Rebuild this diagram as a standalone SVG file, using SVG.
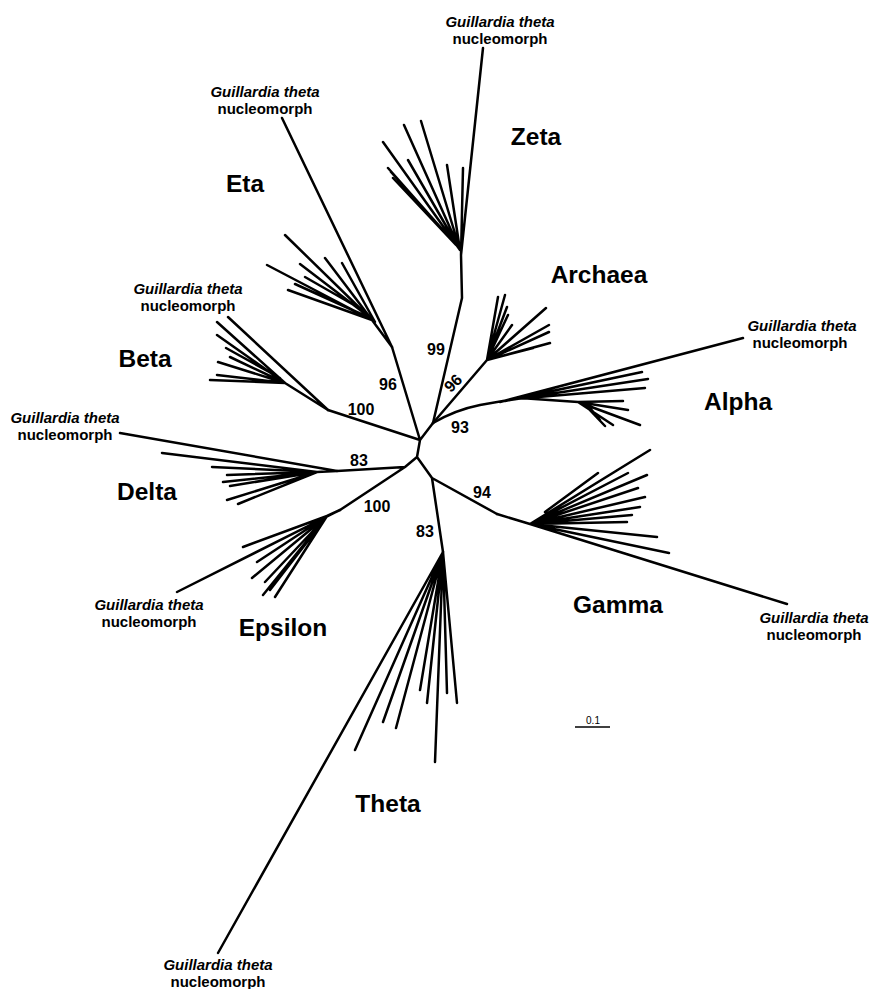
<svg xmlns="http://www.w3.org/2000/svg" width="872" height="989" viewBox="0 0 872 989">
<style>
.e{fill:none;stroke:#000;stroke-width:2.5;stroke-linecap:round;stroke-linejoin:round}
.g1{font-family:"Liberation Sans",Arial,sans-serif;font-size:15px;font-weight:bold;font-style:italic;text-anchor:middle}
.g2{font-family:"Liberation Sans",Arial,sans-serif;font-size:15px;font-weight:bold;text-anchor:middle}
.c{font-family:"Liberation Sans",Arial,sans-serif;font-size:24.5px;font-weight:bold;text-anchor:middle}
.b{font-family:"Liberation Sans",Arial,sans-serif;font-size:16px;font-weight:bold;text-anchor:middle}
.s{font-family:"Liberation Sans",Arial,sans-serif;font-size:10px;text-anchor:middle}
</style>
<rect width="872" height="989" fill="#fff"/>
<g id="connectors">
<!-- backbone -->
<path class="e" d="M420,440 L417,457 M420,440 L392,347 M420,440 L328,410 M420,440 L433,423 M417,457 L405,467 M417,457 L432,478 M405,467 L337,471 M405,467 L340,510 M432,478 L497,514 M432,478 L443,552"/>
<!-- Eta -->
<path class="e" d="M392,347 L282,118 M392,347 L372,320 M372,320 L285,235 M372,320 L267,265 M372,320 L288,290 M368,316 L300,264 M372,320 L325,258 M375,322 L342,263 M366,312 L305,277 M370,318 L295,284"/>
<!-- Beta -->
<path class="e" d="M328,410 L228,317 M328,410 L285,383 M285,383 L217,322 M285,383 L217,335 M285,383 L218,362 M285,383 L230,357 M285,383 L217,375 M285,383 L210,380 M280,378 L226,348"/>
<!-- Delta -->
<path class="e" d="M337,471 L120,433 M337,471 L317,472 M317,472 L162,453 M317,472 L212,467 M317,472 L227,475 M317,472 L223,482 M317,472 L230,486 M317,472 L227,500 M317,472 L238,504"/>
<!-- Epsilon -->
<path class="e" d="M340,510 L177,592 M340,510 L327,516 M327,516 L243,547 M327,516 L257,562 M327,516 L252,578 M327,516 L265,582 M327,516 L263,595 M327,516 L275,597 M318,528 L270,590"/>
<!-- Zeta -->
<path class="e" d="M433,423 L462,298 L461,255 M461,255 L483,48 M460,250 L383,142 M460,250 L404,125 M460,250 L421,121 M460,250 L408,160 M458,247 L388,168 M456,245 L393,178 M452,240 L391,172 M460,250 L447,165 M461,255 L463,168"/>
<!-- Archaea -->
<path class="e" d="M433,423 L487,360 M487,360 L498,297 M487,360 L505,295 M487,360 L507,307 M487,360 L508,315 M487,360 L512,325 M487,360 L546,308 M487,360 L549,325 M487,360 L549,332 M487,360 L550,343 M487,360 L533,348"/>
<!-- Alpha -->
<path class="e" d="M433,423 Q455,410 480,405 L520,398 M500,402 L743,338 M505,401 L642,372 M510,400 L648,379 M515,399 L645,388 M520,398 L578,402 M578,402 L623,401 M578,402 L628,410 M578,402 L640,425 M578,402 L613,425 M585,405 L605,426 M590,408 L600,420"/>
<!-- Gamma -->
<path class="e" d="M497,514 L530,524 M530,524 L787,604 M530,524 L650,450 M545,512 L598,473 M530,524 L628,473 M530,524 L647,475 M530,524 L638,488 M530,524 L645,497 M530,524 L640,507 M530,524 L632,515 M530,524 L627,522 M530,524 L657,537 M530,524 L669,553"/>
<!-- Theta -->
<path class="e" d="M443,552 L218,953 M443,552 L355,750 M443,552 L383,722 M443,552 L396,728 M443,552 L420,690 M443,552 L427,703 M443,552 L435,762 M443,552 L447,693 M443,552 L457,703"/>
<!-- scale bar -->
<path d="M575,727 L610,727" stroke="#000" stroke-width="1.6" fill="none"/>
</g>
<g id="zeta"><text class="c" x="536" y="145">Zeta</text><text class="g1" x="500" y="27">Guillardia theta</text><text class="g2" x="500" y="44">nucleomorph</text></g>
<g id="eta"><text class="c" x="245" y="192">Eta</text><text class="g1" x="265" y="97">Guillardia theta</text><text class="g2" x="265" y="114">nucleomorph</text></g>
<g id="beta"><text class="c" x="145" y="367">Beta</text><text class="g1" x="188" y="294">Guillardia theta</text><text class="g2" x="188" y="311">nucleomorph</text></g>
<g id="delta"><text class="c" x="147" y="500">Delta</text><text class="g1" x="65" y="423">Guillardia theta</text><text class="g2" x="65" y="440">nucleomorph</text></g>
<g id="epsilon"><text class="c" x="283" y="636">Epsilon</text><text class="g1" x="149" y="610">Guillardia theta</text><text class="g2" x="149" y="627">nucleomorph</text></g>
<g id="theta"><text class="c" x="388" y="812">Theta</text><text class="g1" x="218" y="970">Guillardia theta</text><text class="g2" x="218" y="987">nucleomorph</text></g>
<g id="gamma"><text class="c" x="618" y="613">Gamma</text><text class="g1" x="814" y="623">Guillardia theta</text><text class="g2" x="814" y="640">nucleomorph</text></g>
<g id="alpha"><text class="c" x="738" y="410">Alpha</text><text class="g1" x="802" y="331">Guillardia theta</text><text class="g2" x="800" y="348">nucleomorph</text></g>
<g id="archaea"><text class="c" x="599" y="283">Archaea</text></g>
<g id="bootstrap">
<text class="b" x="436" y="355">99</text>
<text class="b" x="388" y="390">96</text>
<text class="b" x="361" y="415">100</text>
<text class="b" x="359" y="466">83</text>
<text class="b" x="377" y="512">100</text>
<text class="b" x="425" y="537">83</text>
<text class="b" x="482" y="498">94</text>
<text class="b" x="460" y="433">93</text>
<text class="b" transform="translate(457,387) rotate(-45)">96</text>
</g>
<g id="scale"><text class="s" x="593" y="724">0.1</text></g>
</svg>
